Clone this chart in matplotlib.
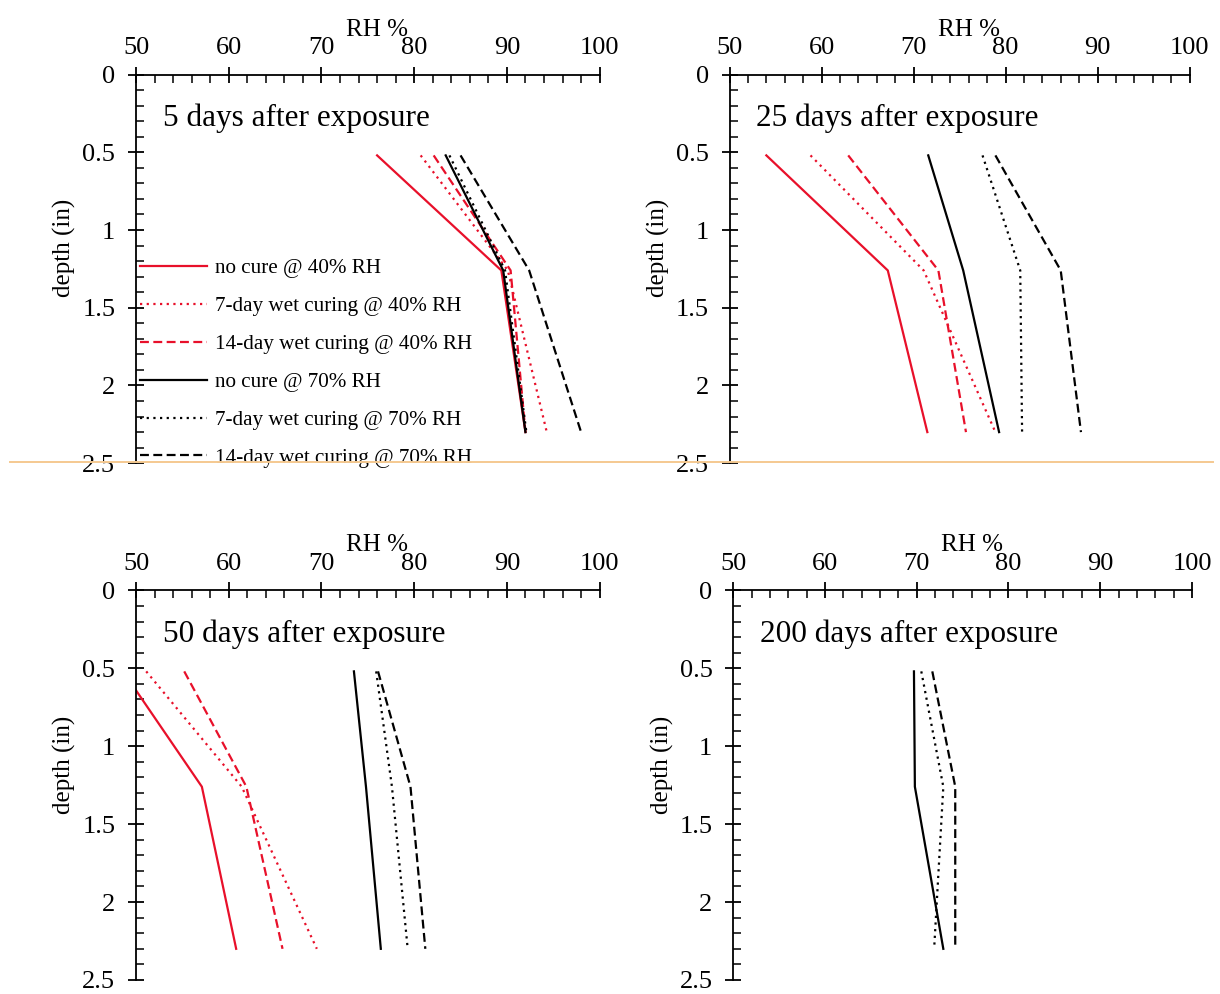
import matplotlib
matplotlib.use("Agg")
import matplotlib.pyplot as plt
from matplotlib.lines import Line2D
from matplotlib.ticker import MultipleLocator

plt.rcParams['font.family'] = ['Liberation Serif', 'DejaVu Serif']

depth = [0.52, 1.26, 2.30]

labels = ["no cure @ 40% RH", "7-day wet curing @ 40% RH", "14-day wet curing @ 40% RH",
          "no cure @ 70% RH", "7-day wet curing @ 70% RH", "14-day wet curing @ 70% RH"]

# RH profiles, one list per curing case (same order as labels)
rh_5 = [[76.0, 89.4, 92.0], [80.7, 90.1, 94.3], [82.1, 90.4, 92.0],
        [83.4, 89.6, 92.0], [83.8, 89.8, 92.1], [85.0, 92.4, 98.0]]
rh_25 = [[54.0, 67.2, 71.5], [58.8, 71.1, 78.9], [62.9, 72.7, 75.7],
         [71.6, 75.4, 79.3], [77.5, 81.6, 81.8], [78.9, 86.0, 88.2]]
rh_50 = [[48.6, 57.1, 60.8], [51.1, 61.4, 69.5], [55.2, 61.9, 65.8],
         [73.5, 74.8, 76.4], [75.9, 77.6, 79.3], [76.1, 79.6, 81.2]]
rh_200 = [None, None, None,
          [69.7, 69.8, 72.9], [70.5, 72.9, 71.9], [71.7, 74.2, 74.2]]

titles = ["5 days after exposure", "25 days after exposure",
          "50 days after exposure", "200 days after exposure"]

red = "#e8102a"
styles = [dict(color=red, ls="-"), dict(color=red, ls=(0, (1, 2))), dict(color=red, ls=(0, (4, 2))),
          dict(color="black", ls="-"), dict(color="black", ls=(0, (1, 2))), dict(color="black", ls=(0, (4, 2)))]

fig = plt.figure(figsize=(12.2, 9.94), dpi=100)
boxes = [[0.1115, 0.534, 0.380, 0.391], [0.598, 0.534, 0.377, 0.391],
         [0.1115, 0.0141, 0.380, 0.392], [0.601, 0.0141, 0.376, 0.392]]

for box, data, title in zip(boxes, [rh_5, rh_25, rh_50, rh_200], titles):
    ax = fig.add_axes(box)
    for vals, st, lab in zip(data, styles, labels):
        if vals is None:
            continue
        ax.plot(vals, depth, lw=1.6, label=lab, **st)
    ax.set_xlim(50, 100)
    ax.set_ylim(2.5, 0)
    ax.spines['right'].set_visible(False)
    ax.spines['bottom'].set_visible(False)
    ax.spines['top'].set_linewidth(1.3)
    ax.spines['left'].set_linewidth(1.3)
    ax.xaxis.tick_top()
    ax.xaxis.set_label_position('top')
    ax.xaxis.set_major_locator(MultipleLocator(10))
    ax.xaxis.set_minor_locator(MultipleLocator(2))
    ax.yaxis.set_minor_locator(MultipleLocator(0.1))
    ax.set_yticks([0, 0.5, 1, 1.5, 2, 2.5])
    ax.set_yticklabels(["0", "0.5", "1", "1.5", "2", "2.5"])
    ax.tick_params(which='major', direction='inout', length=12, width=1.3, labelsize=19)
    ax.tick_params(axis='x', which='major', pad=5)
    ax.tick_params(axis='y', which='major', pad=9)
    ax.tick_params(which='minor', direction='in', length=6, width=1.1)
    ax.set_xlabel("RH %", fontsize=18)
    ax.xaxis.set_label_coords(0.52, 1.1)
    ax.set_ylabel("depth (in)", fontsize=18)
    ax.yaxis.set_label_coords(-0.13, 0.553)
    ax.text(0.058, 0.887, title, transform=ax.transAxes, fontsize=22.5, va='center', ha='left')
    if title.startswith("5 "):
        ax.legend(loc='upper left', bbox_to_anchor=(0.009, 0.527), frameon=False, fontsize=15.2,
                  handlelength=3.15, handletextpad=0.4, labelspacing=0.86, borderpad=0, borderaxespad=0)

fig.add_artist(Line2D([10 / 1220, 1213 / 1220], [1 - 462 / 994, 1 - 462 / 994],
                      color="#f5c990", lw=1.4, transform=fig.transFigure))

fig.savefig("out.png", dpi=100)
